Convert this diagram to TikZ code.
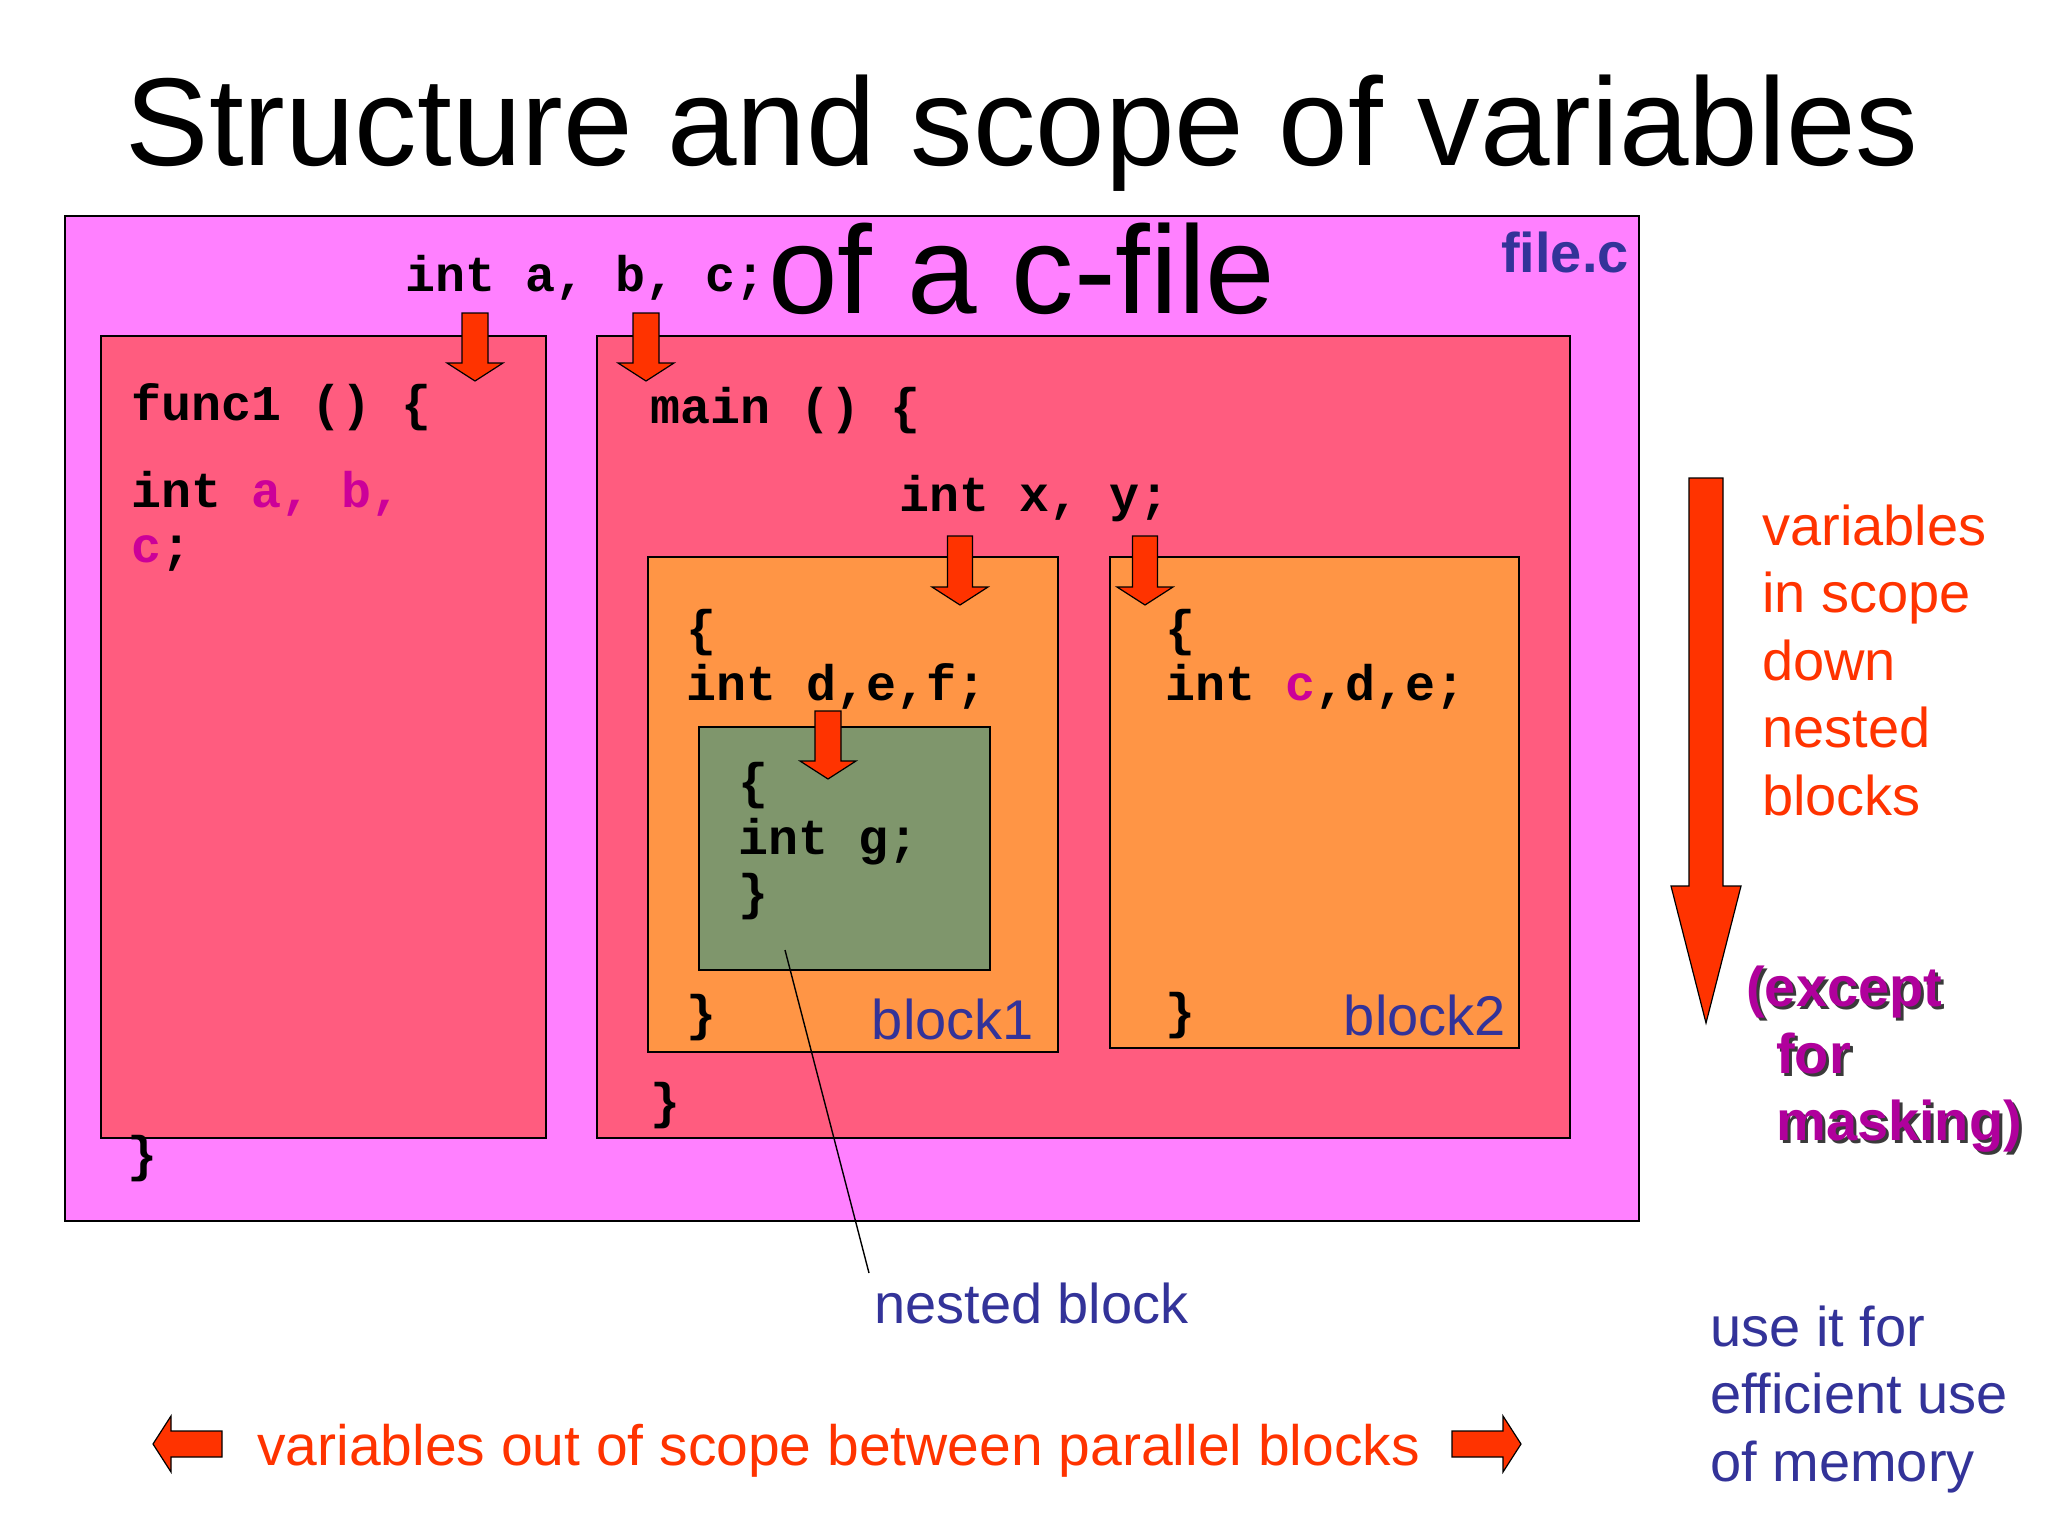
\documentclass[tikz,border=0pt]{standalone}
\usepackage{fontspec}
\setmainfont{Liberation Sans}
\newfontfamily\codefont{Liberation Mono}
\definecolor{fileBg}{HTML}{FF80FF}
\definecolor{funcBg}{HTML}{FF5C7F}
\definecolor{blockBg}{HTML}{FF9545}
\definecolor{nestBg}{HTML}{7F966C}
\definecolor{arrowRed}{HTML}{FF3300}
\definecolor{blueT}{HTML}{333399}
\definecolor{magT}{HTML}{CC0099}
\definecolor{purpT}{HTML}{B0009C}
\definecolor{shadowT}{HTML}{3A3A3A}
\tikzset{
  box/.style={draw=black, line width=1.6pt, inner sep=0pt, outer sep=0pt, anchor=north west},
  code/.style={anchor=base west, inner sep=0pt, font=\codefont\bfseries\fontsize{50}{60}\selectfont},
  sans/.style={inner sep=0pt, font=\fontsize{56}{67.5}\selectfont},
  blockarrow/.style={fill=arrowRed, draw=black, line width=1.2pt, line join=miter},
  leader/.style={draw=black, line width=1.4pt}
}
\newcommand\DArrow[6]{%
  \draw[blockarrow] (#1,#2) ++(-#3,0) -- ++(2*#3,0) -- ++(0,#5) -- ++(#4-#3,0)
    -- ++(-#4,#6) -- ++(-#4,-#6) -- ++(#4-#3,0) -- cycle;}
\newcommand\shd[1]{\makebox[0pt][l]{\kern3pt\raisebox{-3pt}{\color{shadowT}#1}}#1}
\begin{document}
\begin{tikzpicture}[x=1pt,y=-1pt]
\useasboundingbox (0,0) rectangle (2048,1536);
\fill[white] (0,0) rectangle (2048,1536);
% boxes
\node[box, fill=fileBg, minimum width=1574pt, minimum height=1005pt] (file) at (65,216) {};
\node[box, fill=funcBg, minimum width=445pt, minimum height=802pt] (func1) at (101,336) {};
\node[box, fill=funcBg, minimum width=973pt, minimum height=802pt] (main) at (597,336) {};
\node[box, fill=blockBg, minimum width=410pt, minimum height=495pt] (block1) at (648,557) {};
\node[box, fill=blockBg, minimum width=409pt, minimum height=491pt] (block2) at (1110,557) {};
\node[box, fill=nestBg, minimum width=291pt, minimum height=243pt] (nest) at (699,727) {};
% title
\node[anchor=base, inner sep=0pt, font=\fontsize{125}{148}\selectfont] (title1) at (1022,165) {Structure and scope of variables};
\node[anchor=base, inner sep=0pt, font=\fontsize{125}{148}\selectfont] (title2) at (1022,313) {of a c-file};
\node[anchor=base east, inner sep=0pt, font=\bfseries\fontsize{56}{67}\selectfont, text=blueT] (filec) at (1629,272) {file.c};
% code
\node[code] (globals) at (405,291) {int a, b, c;};
\node[code] (f1) at (131,420) {func1 () \{};
\node[code] (f2) at (131,507) {int \textcolor{magT}{a, b,}};
\node[code] (f3) at (131,562) {\textcolor{magT}{c};};
\node[code] (f4) at (127,1171) {\}};
\node[code] (m1) at (650,423) {main () \{};
\node[code] (m2) at (899,511) {int x, y;};
\node[code] (m3) at (650,1118) {\}};
\node[code] (b1a) at (686,645) {\{};
\node[code] (b1b) at (686,700) {int d,e,f;};
\node[code] (b1c) at (686,1030) {\}};
\node[code] (n1) at (738,798) {\{};
\node[code] (n2) at (738,854) {int g;};
\node[code] (n3) at (738,909) {\}};
\node[code] (b2a) at (1165,645) {\{};
\node[code] (b2b) at (1165,700) {int \textcolor{magT}{c},d,e;};
\node[code] (b2c) at (1165,1028) {\}};
\node[sans, anchor=base east, text=blueT] (lb1) at (1034,1039) {block1};
\node[sans, anchor=base east, text=blueT] (lb2) at (1506,1035) {block2};
% side texts (base anchor = last line)
\node[sans, anchor=base west, align=left, text=arrowRed] (scopetxt) at (1762,815) {variables\\in scope\\down\\nested\\blocks};
\node[sans, anchor=base west, align=left, text=purpT, font=\bfseries\fontsize{56}{67}\selectfont] (masktxt) at (1746,1140) {\shd{(except}\\\hspace*{30pt}\shd{for}\\\hspace*{30pt}\shd{masking)}};
\node[sans, anchor=base west, align=left, text=blueT] (memtxt) at (1710,1481) {use it for\\efficient use\\of memory};
\node[sans, anchor=base west, text=blueT] (nestlbl) at (874,1323) {nested block};
\node[sans, anchor=base west, text=arrowRed, font=\fontsize{57}{68}\selectfont] (outtxt) at (257,1465) {variables out of scope between parallel blocks};
% leader
\coordinate (lstart) at (785,950);
\coordinate (lend) at (869,1273);
\draw[leader] (lstart) -- (lend);
% arrows
\DArrow{475}{313}{13}{28}{50}{18}
\DArrow{646}{313}{13}{28}{50}{18}
\DArrow{960}{536}{12.5}{28}{51}{18}
\DArrow{1145}{536}{12.5}{28}{51}{18}
\DArrow{828}{711}{13}{28}{50}{18}
\DArrow{1706}{478}{17}{35}{408}{137}
\draw[blockarrow] (153,1444) -- ++(18,-28) -- ++(0,15) -- ++(51,0) -- ++(0,26) -- ++(-51,0) -- ++(0,15) -- cycle;
\draw[blockarrow] (1521,1444) -- ++(-18,-28) -- ++(0,15) -- ++(-51,0) -- ++(0,26) -- ++(51,0) -- ++(0,15) -- cycle;
\end{tikzpicture}
\end{document}
